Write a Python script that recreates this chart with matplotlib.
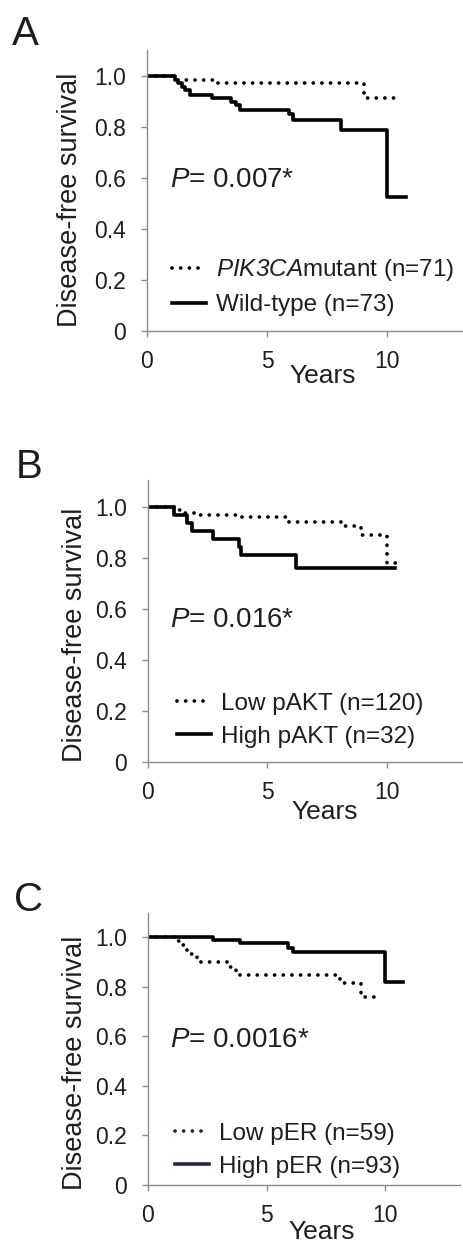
import matplotlib
matplotlib.use("Agg")
import matplotlib.pyplot as plt

plt.rcParams["font.family"] = ["Liberation Sans", "DejaVu Sans"]
plt.rcParams["mathtext.fontset"] = "custom"
plt.rcParams["mathtext.rm"] = "Liberation Sans"
plt.rcParams["mathtext.sf"] = "Liberation Sans:italic"   # italic that keeps digits italic too

# ------------------------------------------  data  ------------------------------------------ #

# panel A : PIK3CA
mut_t = [0, 1.2, 2.75, 9.05, 10.4]
mut_s = [1.0, 0.986, 0.971, 0.915, 0.915]
wt_t = [0, 1.15, 1.3, 1.45, 1.6, 1.8, 2.7, 3.5, 3.72, 3.88, 5.9, 6.1, 8.1, 10.0, 10.8]
wt_s = [1.0, 0.986, 0.972, 0.958, 0.944, 0.925, 0.912, 0.899, 0.885, 0.867, 0.85, 0.827, 0.788, 0.527, 0.527]

# panel B : pAKT
lakt_t = [0, 1.3, 1.55, 2.0, 3.8, 5.9, 8.07, 8.9, 10.0, 10.6]
lakt_s = [1.0, 0.99, 0.977, 0.969, 0.962, 0.942, 0.925, 0.89, 0.78, 0.78]
hakt_t = [0, 1.1, 1.65, 1.85, 2.7, 3.8, 3.9, 6.2, 10.35]
hakt_s = [1.0, 0.969, 0.938, 0.906, 0.875, 0.844, 0.812, 0.76, 0.76]

# panel C : pER
ler_t = [0, 1.15, 1.35, 1.55, 1.75, 2.05, 3.45, 3.7, 3.9, 8.1, 9.0, 9.8]
ler_s = [1.0, 0.983, 0.966, 0.949, 0.93, 0.898, 0.88, 0.864, 0.847, 0.813, 0.759, 0.759]
her_t = [0, 2.75, 3.88, 5.92, 6.12, 10.0, 10.75]
her_s = [1.0, 0.988, 0.976, 0.957, 0.94, 0.82, 0.82]

letters = ["A", "B", "C"]
pvals = [r"$\mathsf{P}$= 0.007*", r"$\mathsf{P}$= 0.016*", r"$\mathsf{P}$= 0.0016*"]
dotted_labels = [r"$\mathsf{PIK3CA}$mutant (n=71)", "Low pAKT (n=120)", "Low pER (n=59)"]
solid_labels = ["Wild-type (n=73)", "High pAKT (n=32)", "High pER (n=93)"]
xticks = [0, 5, 10]
yticks = [0, 0.2, 0.4, 0.6, 0.8, 1.0]
ytick_labels = ["0", "0.2", "0.4", "0.6", "0.8", "1.0"]

curves = [(mut_t, mut_s, wt_t, wt_s),
          (lakt_t, lakt_s, hakt_t, hakt_s),
          (ler_t, ler_s, her_t, her_s)]

# ---------------------------------------  layout  ------------------------------------------- #

W, H = 464, 1247
rects = [[147, 331, 316, 281], [148, 762, 315, 282], [148, 1185, 312, 272]]   # left, bottom, w, h (px)
ylims = [1.102, 1.106, 1.097]
xlims = [13.17, 13.18, 13.16]
letter_pos = [(12, 34), (16, 467), (14, 900)]
ptext_pos = [(0.96, 0.592), (0.92, 0.557), (0.93, 0.585)]
ylab_pos = [(-0.244, 0.466), (-0.232, 0.45), (-0.234, 0.449)]
xlab_pos = [(0.557, -0.160), (0.562, -0.177), (0.557, -0.173)]
leg_pos = [(0.079, 0.053), (0.092, 0.05), (0.087, 0.026)]
leg_col = ["black", "black", "#1f2a48"]

txt = "#1e1e1e"
gray = "#8c8c8c"

fig = plt.figure(figsize=(W / 100, H / 100), dpi=100)

for i in range(3):
    l, b, w, h = rects[i]
    ax = fig.add_axes([l / W, 1 - b / H, w / W, h / H])
    t1, s1, t2, s2 = curves[i]

    ax.step(t1, s1, where="post", color="black", lw=2.7,
            linestyle=(0, (0.01, 2.3)), dash_capstyle="round", label=dotted_labels[i])
    ax.step(t2, s2, where="post", color="black", lw=2.6, label=solid_labels[i])

    ax.set_xlim(0, xlims[i])
    ax.set_ylim(0, ylims[i])
    ax.set_xticks(xticks)
    ax.set_yticks(yticks)
    ax.set_yticklabels(ytick_labels)

    for s in ["top", "right"]:
        ax.spines[s].set_visible(False)
    for s in ["left", "bottom"]:
        ax.spines[s].set_color(gray)
        ax.spines[s].set_linewidth(1)
    ax.tick_params(axis="both", colors=gray, labelcolor=txt, length=4, width=1,
                   labelsize=16.5)
    ax.tick_params(axis="y", pad=11)
    ax.tick_params(axis="x", pad=10)

    ax.set_ylabel("Disease-free survival", fontsize=19.5, color=txt, va="center")
    ax.yaxis.set_label_coords(*ylab_pos[i])
    ax.set_xlabel("Years", fontsize=19, color=txt, va="center")
    ax.xaxis.set_label_coords(*xlab_pos[i])

    ax.text(ptext_pos[i][0], ptext_pos[i][1], pvals[i], fontsize=20, color=txt,
            ha="left", va="center")

    leg = ax.legend(loc="lower left", bbox_to_anchor=leg_pos[i], frameon=False,
                    fontsize=17.5, borderpad=0, borderaxespad=0, handlelength=1.4,
                    handletextpad=0.42, labelspacing=0.45)
    for t in leg.get_texts():
        t.set_color(txt)
    for ln in leg.get_lines():
        ln.set_color(leg_col[i])

    fig.text(letter_pos[i][0] / W, 1 - letter_pos[i][1] / H, letters[i],
             fontsize=29, color=txt, ha="left", va="center")

fig.savefig("out.png", dpi=100)
